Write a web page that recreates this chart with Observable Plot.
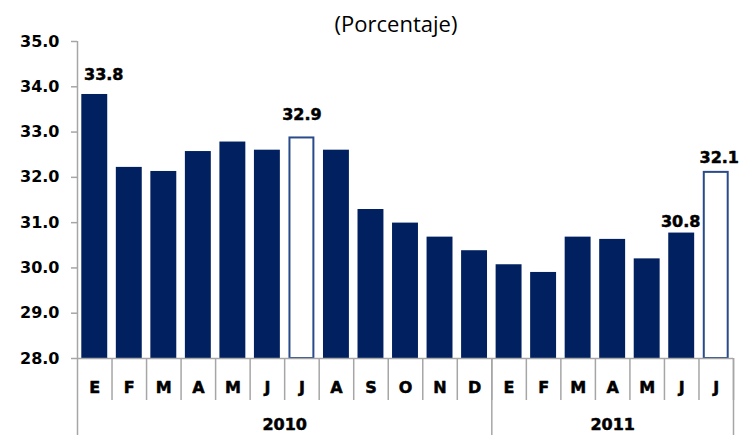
<!DOCTYPE html>
<html>
<head>
<meta charset="utf-8">
<script src="https://cdn.jsdelivr.net/npm/d3@7"></script>
<script src="https://cdn.jsdelivr.net/npm/@observablehq/plot@0.6"></script>
<style>
  html, body { margin: 0; padding: 0; background: #fff; }
  #wrap { position: relative; width: 742px; height: 435px; }
  #title { position: absolute; left: 0; top: 9px; width: 742px; text-align: center;
           font-family: "Open Sans", sans-serif; font-size: 22px; line-height: 28px; color: #000; padding-left: 50px; box-sizing: border-box; }
  svg { display: block; }
</style>
</head>
<body>
<div id="wrap">
  <div id="title">(Porcentaje)</div>
</div>
<script>
const years = ["2010","2010","2010","2010","2010","2010","2010","2010","2010","2010","2010","2010",
               "2011","2011","2011","2011","2011","2011","2011"];
const months = ["E","F","M","A","M","J","J","A","S","O","N","D",
                "E","F","M","A","M","J","J"];
const values = [33.83, 32.22, 32.13, 32.57, 32.78, 32.60, 32.87, 32.60, 31.29, 30.99, 30.68, 30.38,
                30.07, 29.90, 30.68, 30.63, 30.20, 30.77, 32.11];
const highlighted = [false,false,false,false,false,false,true,false,false,false,false,false,
                     false,false,false,false,false,false,true];
const yTicks = [28, 29, 30, 31, 32, 33, 34, 35];
const yearLabels = ["2010", "2011"];

const data = values.map((v, i) => ({
  key: `${years[i]}-${i}`, year: years[i], month: months[i], value: v, hl: highlighted[i], i
}));
const keys = data.map(d => d.key);

const W = 742, H = 435;
const mL = 77, mR = 9, mT = 41, mB = 77;
const bw = (W - mL - mR) / keys.length;
const pxPerUnit = (H - mT - mB) / (35 - 28);
const below = px => 28 - px / pxPerUnit;

const yearStarts = keys.filter((k, i) => i === 0 || years[i] !== years[i - 1]);
const yearGroups = yearLabels.map(y => {
  const idx = data.filter(d => d.year === y).map(d => d.i);
  return {year: y, first: idx[0], last: idx[idx.length - 1]};
});
const yearLabelData = yearGroups.map(g => {
  const mid = (g.first + g.last) / 2;
  const k = keys[Math.ceil(mid)];
  return {year: g.year, key: k, off: (mid - Math.ceil(mid)) * bw};
});

const lab = i => data[i];
const fontBold = {fontFamily: "DejaVu Sans, Verdana, sans-serif", fontWeight: "bold",
                  fill: "#000", stroke: "#000", strokeWidth: 0.5};
const grey = {stroke: "#a6a6a6", strokeWidth: 1.5};

const chart = Plot.plot({
  width: W, height: H,
  marginLeft: mL, marginRight: mR, marginTop: mT, marginBottom: mB,
  style: {background: "#fff", overflow: "visible"},
  x: {type: "band", domain: keys, padding: 0, round: false, axis: null},
  y: {domain: [28, 35], axis: null},
  marks: [
    Plot.barY(data.filter(d => !d.hl), {x: "key", y1: 28, y2: "value", fill: "#002060",
      insetLeft: 4.3, insetRight: 4.3}),
    Plot.barY(data.filter(d => d.hl), {x: "key", y1: 28, y2: "value", fill: "#fff",
      stroke: "#2a4a8a", strokeWidth: 2, insetLeft: 5.3, insetRight: 5.3}),
    Plot.ruleY([28], grey),
    Plot.ruleX([keys[0]], {x: d => d, dx: -bw / 2, y1: 35, y2: below(mB), ...grey}),
    Plot.axisY(yTicks, {tickSize: 6, tickPadding: 12, label: null, ...grey,
      tickFormat: d3.format(".1f"), fontSize: 16, fontFamily: "DejaVu Sans, Verdana, sans-serif",
      fontWeight: "bold", color: "#000"}),
    Plot.ruleX(keys, {x: d => d, dx: bw / 2, y1: 28, y2: below(42), ...grey}),
    Plot.ruleX(yearStarts.slice(1), {x: d => d, dx: -bw / 2, y1: 28, y2: below(mB), ...grey}),
    Plot.ruleX([keys[keys.length - 1]], {x: d => d, dx: bw / 2, y1: 28, y2: below(mB), ...grey}),
    Plot.text(data, {x: "key", y: 28, text: "month", dy: 29, fontSize: 16, ...fontBold}),
    ...yearLabelData.map(d => Plot.text([d], {x: "key", y: 28, text: "year", dx: d.off, dy: 66,
      fontSize: 16, ...fontBold})),
    Plot.text([lab(0)], {x: "key", y: "value", text: d => d.value.toFixed(1), dy: -20, dx: 9, fontSize: 16, ...fontBold}),
    Plot.text([lab(6)], {x: "key", y: "value", text: d => d.value.toFixed(1), dy: -23, fontSize: 16, ...fontBold}),
    Plot.text([lab(17)], {x: "key", y: "value", text: d => d.value.toFixed(1), dy: -11, dx: -1, fontSize: 16, ...fontBold}),
    Plot.text([lab(18)], {x: "key", y: "value", text: d => d.value.toFixed(1), dy: -15, dx: 3, fontSize: 16, ...fontBold})
  ]
});
document.getElementById("wrap").appendChild(chart);
</script>
</body>
</html>
